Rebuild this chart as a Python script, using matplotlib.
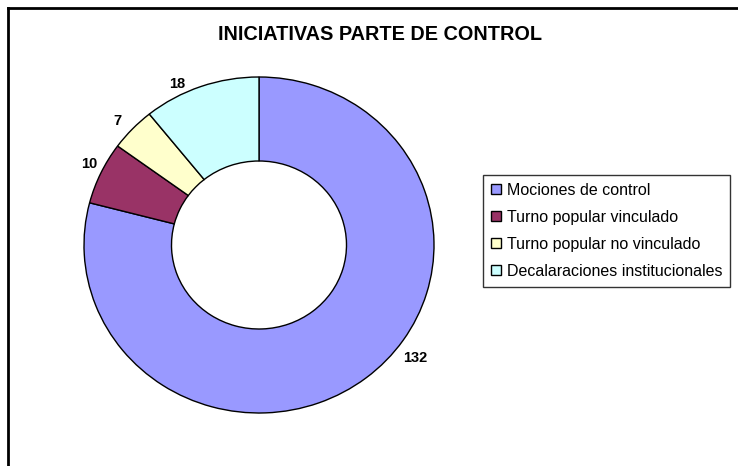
import matplotlib.pyplot as plt
from matplotlib.lines import Line2D

plt.rcParams['font.family'] = ['Liberation Sans', 'DejaVu Sans']

categories = ["Mociones de control", "Turno popular vinculado",
              "Turno popular no vinculado", "Decalaraciones institucionales"]
values = [132, 10, 7, 18]
colors = ['#9999FF', '#993366', '#FFFFCC', '#CCFFFF']

fig = plt.figure(figsize=(7.38, 4.66), dpi=100)

# outer chart frame (only left and top edges visible)
fig.add_artist(Line2D([8 / 738, 8 / 738], [0, 1 - 8 / 466], transform=fig.transFigure,
                      color='black', linewidth=2))
fig.add_artist(Line2D([8 / 738, 1], [1 - 8 / 466, 1 - 8 / 466], transform=fig.transFigure,
                      color='black', linewidth=2))

ax = fig.add_axes([84 / 738, 53 / 466, 350 / 738, 336 / 466])
wedges, texts = ax.pie(values, colors=colors, startangle=90, counterclock=False,
                       radius=1.0, wedgeprops=dict(width=0.5, edgecolor='black', linewidth=1))
ax.set_aspect('auto')
ax.set_xlim(-1, 1)
ax.set_ylim(-1, 1)

# value labels, placed like Excel does
label_pos = [(0.89, -0.67), (-0.97, 0.48), (-0.81, 0.74), (-0.47, 0.96)]
for v, (x, y) in zip(values, label_pos):
    ax.text(x, y, str(v), ha='center', va='center', fontsize=10.5, fontweight='bold')

fig.text(380 / 738, 1 - 35 / 466, "INICIATIVAS PARTE DE CONTROL", ha='center', va='center',
         fontsize=14.3, fontweight='bold')

leg = fig.legend(wedges, categories, loc='upper left', bbox_to_anchor=(483 / 738, 1 - 175 / 466),
                 fontsize=11.5, frameon=True, fancybox=False, edgecolor='black',
                 handlelength=0.6, handleheight=0.6, handletextpad=0.4,
                 labelspacing=0.75, borderpad=0.5, borderaxespad=0)
leg.get_frame().set_linewidth(1)

fig.savefig('out.png', dpi=100)
